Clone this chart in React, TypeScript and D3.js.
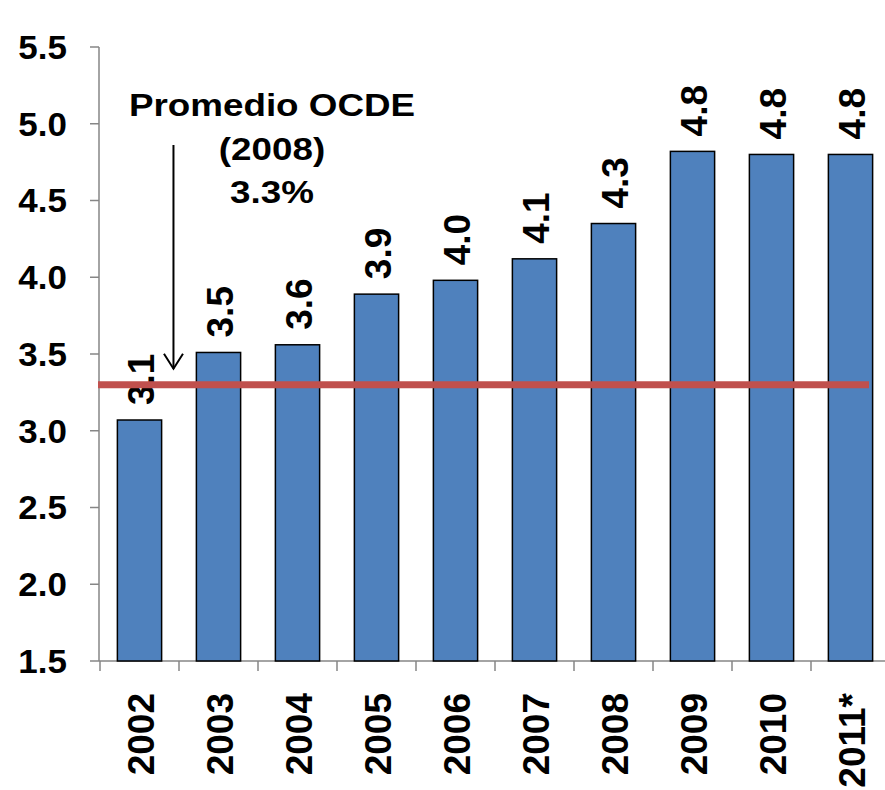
import React from "react";
import * as d3 from "d3";

const years = ["2002", "2003", "2004", "2005", "2006", "2007", "2008", "2009", "2010", "2011*"];
const values = [3.07, 3.51, 3.56, 3.89, 3.98, 4.12, 4.35, 4.82, 4.80, 4.80];
const valueLabels = ["3.1", "3.5", "3.6", "3.9", "4.0", "4.1", "4.3", "4.8", "4.8", "4.8"];
const yTicks = [1.5, 2.0, 2.5, 3.0, 3.5, 4.0, 4.5, 5.0, 5.5];
const oecdAverage = 3.3;
const annotationLines = ["Promedio OCDE", "(2008)", "3.3%"];

const W = 885;
const H = 790;
const FONT = "'Liberation Sans', Arial, Helvetica, sans-serif";

export default function App() {
  const x = d3
    .scaleBand<string>()
    .domain(years)
    .range([100, 890])
    .paddingInner(0.44)
    .paddingOuter(0.22);
  const y = d3.scaleLinear().domain([1.5, 5.5]).range([661, 47]);
  const step = x.step();
  const x0 = 100;
  const axisColor = "#868686";

  const boundaries = d3.range(0, years.length + 1).map((i) => x0 + i * step);

  const arrowX = x0 + step * 0.93;
  const arrowTip = y(oecdAverage) - 16;

  return (
    <svg
      width={W}
      height={H}
      style={{ position: "absolute", left: 0, top: 0, background: "#fff" }}
      fontFamily={FONT}
    >
      <rect x={0} y={0} width={W} height={H} fill="#fff" />
      {/* Y axis */}
      <line x1={99} x2={99} y1={y(5.5)} y2={y(1.5)} stroke={axisColor} strokeWidth={1.5} />
      {yTicks.map((t) => (
        <g key={t}>
          <line x1={90} x2={99} y1={y(t)} y2={y(t)} stroke={axisColor} strokeWidth={1.5} />
          <text
            x={67}
            y={y(t)}
            dy="0.36em"
            textAnchor="end"
            fontSize={33}
            fontWeight="bold"
            fill="#000"
            transform={`translate(67,0) scale(1.06,1) translate(-67,0)`}
          >
            {t.toFixed(1)}
          </text>
        </g>
      ))}
      {/* X axis */}
      <line x1={99} x2={W} y1={y(1.5)} y2={y(1.5)} stroke={axisColor} strokeWidth={1.5} />
      {boundaries.map((bx, i) => (
        <line key={i} x1={bx} x2={bx} y1={y(1.5)} y2={y(1.5) + 10} stroke={axisColor} strokeWidth={1.5} />
      ))}
      {/* Bars */}
      {years.map((yr, i) => (
        <rect
          key={yr}
          x={x(yr)}
          y={y(values[i])}
          width={x.bandwidth()}
          height={y(1.5) - y(values[i])}
          fill="#4F81BD"
          stroke="#000"
          strokeWidth={1.5}
        />
      ))}
      {/* Value labels */}
      {years.map((yr, i) => {
        const cx = (x(yr) as number) + x.bandwidth() / 2;
        const ty = y(values[i]) - 15;
        return (
          <text
            key={yr}
            transform={`translate(${cx},${ty}) rotate(-90)`}
            dy="0.38em"
            textAnchor="start"
            fontSize={37}
            fontWeight="bold"
            fill="#000"
          >
            {valueLabels[i]}
          </text>
        );
      })}
      {/* Year labels */}
      {years.map((yr) => {
        const cx = (x(yr) as number) + x.bandwidth() / 2;
        return (
          <text
            key={yr}
            transform={`translate(${cx},693) rotate(-90)`}
            dy="0.4em"
            textAnchor="end"
            fontSize={37}
            fontWeight="bold"
            fill="#000"
          >
            {yr}
          </text>
        );
      })}
      {/* OECD average line */}
      <line
        x1={98}
        x2={869}
        y1={y(oecdAverage)}
        y2={y(oecdAverage)}
        stroke="#C0504D"
        strokeWidth={7}
      />
      {/* Annotation */}
      {annotationLines.map((t, i) => (
        <text
          key={t}
          transform={`translate(272,${[116, 160, 203][i]}) scale(1.15,1)`}
          textAnchor="middle"
          fontSize={32}
          fontWeight="bold"
          fill="#000"
        >
          {t}
        </text>
      ))}
      <line x1={arrowX} x2={arrowX} y1={145} y2={arrowTip} stroke="#000" strokeWidth={2} />
      <polyline
        points={`${arrowX - 9.5},${arrowTip - 15} ${arrowX},${arrowTip} ${arrowX + 9.5},${arrowTip - 15}`}
        fill="none"
        stroke="#000"
        strokeWidth={2}
      />
    </svg>
  );
}
